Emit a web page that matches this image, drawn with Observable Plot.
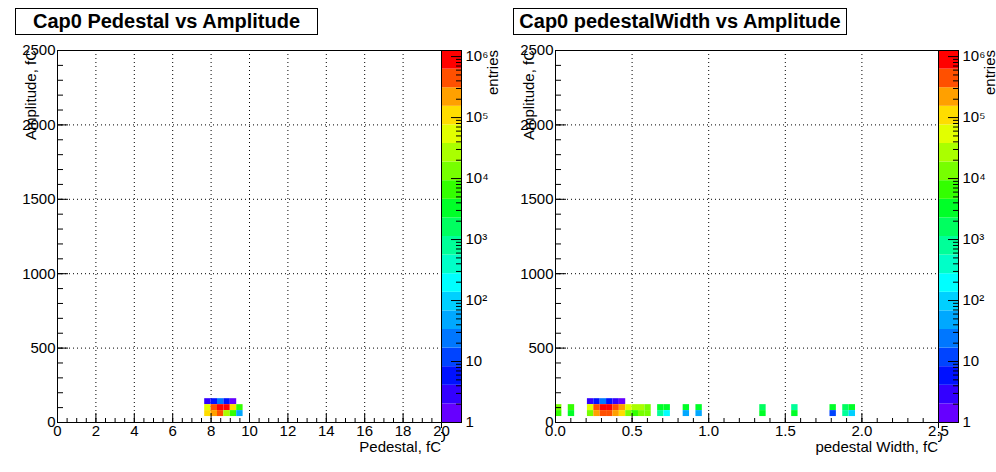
<!DOCTYPE html>
<html>
<head>
<meta charset="utf-8">
<script src="https://cdn.jsdelivr.net/npm/d3@7"></script>
<script src="https://cdn.jsdelivr.net/npm/@observablehq/plot@0.6"></script>
<style>
  body { margin: 0; background: #fff; font-family: "Liberation Sans", Arial, sans-serif; }
  #page { position: relative; width: 996px; height: 472px; overflow: hidden; }
  #page svg { position: absolute; top: 0; }
  .title { position: absolute; top: 8px; height: 25px; border: 1px solid #000; font-weight: bold;
           font-size: 20px; line-height: 25px; text-align: center; background: #fff; }
  .lbl { position: absolute; font-size: 15px; white-space: nowrap; }
  .rot { transform-origin: right top; transform: rotate(-90deg); }
</style>
</head>
<body>
<div id="page"></div>
<script>
// ROOT rainbow palette, 20 levels, bottom to top
const palette = ["#6600ff","#3300ff","#0011ff","#0044ff","#0077ff","#00a8ff","#00d0ff","#00ffff",
  "#00ffc8","#00ff99","#00ff60","#00ff28","#33ff00","#77ff00","#aaff00","#e2ff00",
  "#ffdd00","#ffa000","#ff5000","#ff0000"];
const zMax = 6.1; // log10 top of the colour bar

// left: Pedestal (bin 1/3 fC) vs Amplitude (bin 40 fC)
const pedBin = [23,24,25,26,27, 23,24,25,26,27,28, 23,24,25,26,27,28];
const pedRow = [120,120,120,120,120, 80,80,80,80,80,80, 40,40,40,40,40,40];
const pedN   = [3,6,20,7,2, 50000,420000,900000,850000,120000,6000, 110000,300000,450000,28000,6000,45];

// right: pedestal width (bin 2.5/60 fC) vs Amplitude
const widBin = [5,6,7,8,9,10,
  0,2,5,6,7,8,9,10,11,12,13,14,16,17,20,22,32,37,43,45,46,
  0,2,5,6,7,8,9,10,11,12,13,14,16,17,20,22,32,37,43,45,46];
const widRow = [120,120,120,120,120,120,
  80,80,80,80,80,80,80,80,80,80,80,80,80,80,80,80,80,80,80,80,80,
  40,40,40,40,40,40,40,40,40,40,40,40,40,40,40,40,40,40,40,40,40];
const widN = [3,6,20,6,3,1.5,
  12000,6000,60000,500000,900000,900000,500000,250000,50000,25000,25000,12000,3000,3000,3000,3000,1500,700,3000,1500,3000,
  6000,3000,12000,300000,450000,400000,220000,110000,12000,6000,12000,12000,700,180,45,45,3000,3000,12,600,90];

const thresholds = d3.range(1, 20).map(k => Math.pow(10, zMax * k / 20));
const font = "'Liberation Sans', Arial, sans-serif";
const page = document.getElementById("page");

function addText(txt, css, cls) {
  const d = document.createElement("div");
  d.className = "lbl" + (cls ? " " + cls : "");
  d.textContent = txt;
  Object.assign(d.style, css);
  page.appendChild(d);
}

function panel({left, frameL, frameR, xDomain, xMajor, xMinor, bins, rows, counts, binW, title, titleL, titleW, xLabel}) {
  const W = frameR - left + 20, H = 472, fw = frameR - frameL, fh = 372;
  const cells = bins.map((b, i) => ({x1: b * binW, x2: (b + 1) * binW, y1: rows[i], y2: rows[i] + 40, n: counts[i]}));
  const yMajor = d3.range(0, 2501, 500), yMinor = d3.range(0, 2501, 100);
  const main = Plot.plot({
    width: W, height: H,
    marginLeft: frameL - left, marginRight: 20, marginTop: 50, marginBottom: 50,
    x: {domain: xDomain}, y: {domain: [0, 2500]},
    color: {type: "threshold", domain: thresholds, range: palette},
    style: {fontFamily: font, fontSize: "15px", background: "transparent", color: "#000"},
    marks: [
      Plot.ruleX(xMajor, {stroke: "#000", strokeDasharray: "1,3"}),
      Plot.ruleY(yMajor, {stroke: "#000", strokeDasharray: "1,3"}),
      Plot.rect(cells, {x1: "x1", x2: "x2", y1: "y1", y2: "y2", fill: "n"}),
      Plot.tickX(xMinor, {x: d => d, insetTop: fh - 4, stroke: "#000"}),
      Plot.tickX(xMajor, {x: d => d, insetTop: fh - 9, stroke: "#000"}),
      Plot.tickY(yMinor, {y: d => d, insetRight: fw - 6, stroke: "#000"}),
      Plot.tickY(yMajor, {y: d => d, insetRight: fw - 11, stroke: "#000"}),
      Plot.axisX(xMajor, {tickSize: 0, tickPadding: 3, label: null, fontSize: 15}),
      Plot.axisY(yMajor, {tickSize: 0, tickPadding: 2, label: null, fontSize: 15, tickFormat: d => String(d)}),
      Plot.frame({stroke: "#000"})
    ]
  });
  main.style.left = left + "px";
  page.appendChild(main);

  // colour bar
  const edges = [1, ...thresholds, Math.pow(10, zMax)];
  const levels = palette.map((c, i) => ({y1: edges[i], y2: edges[i + 1], c}));
  const cbMajor = [1, 10, 100, 1e3, 1e4, 1e5, 1e6];
  const cbMinor = d3.range(0, 7).flatMap(e => d3.range(2, 10).map(m => m * Math.pow(10, e))).filter(v => v < Math.pow(10, zMax));
  const sup = {1: "1", 10: "10", 100: "10²", 1000: "10³", 10000: "10⁴", 100000: "10⁵", 1000000: "10⁶"};
  const bar = Plot.plot({
    width: 58, height: H, marginLeft: 0, marginRight: 38, marginTop: 50, marginBottom: 50,
    y: {type: "log", domain: [1, Math.pow(10, zMax)]},
    color: {type: "identity"},
    style: {fontFamily: font, fontSize: "15px", background: "transparent", color: "#000"},
    marks: [
      Plot.rect(levels, {x1: 0, x2: 1, y1: "y1", y2: "y2", fill: "c"}),
      Plot.tickY(cbMinor, {y: d => d, insetLeft: 15, stroke: "#000"}),
      Plot.tickY(cbMajor, {y: d => d, insetLeft: 10, stroke: "#000"}),
      Plot.axisY(cbMajor, {anchor: "right", tickSize: 0, tickPadding: 4, label: null, tickFormat: d => sup[d], fontSize: 15}),
      Plot.frame({stroke: "#000"})
    ]
  });
  bar.style.left = frameR + "px";
  page.appendChild(bar);

  const t = document.createElement("div");
  t.className = "title";
  t.textContent = title;
  Object.assign(t.style, {left: titleL + "px", width: titleW + "px"});
  page.appendChild(t);

  addText(xLabel, {right: (996 - frameR) + "px", top: "438px"});
  addText("Amplitude, fC", {right: (996 - (frameL - 35)) + "px", top: "50px"}, "rot");
  addText("entries", {right: (996 - (frameR + 43)) + "px", top: "50px"}, "rot");
}

panel({left: 0, frameL: 57, frameR: 441, xDomain: [0, 20],
  xMajor: d3.range(0, 21, 2), xMinor: d3.range(0, 20.01, 0.5),
  bins: pedBin, rows: pedRow, counts: pedN, binW: 20 / 60,
  title: "Cap0 Pedestal vs Amplitude", titleL: 15, titleW: 301, xLabel: "Pedestal, fC"});

panel({left: 500, frameL: 555, frameR: 938, xDomain: [0, 2.5],
  xMajor: d3.range(0, 2.51, 0.5), xMinor: d3.range(0, 2.51, 0.1),
  bins: widBin, rows: widRow, counts: widN, binW: 2.5 / 60,
  title: "Cap0 pedestalWidth vs Amplitude", titleL: 513, titleW: 332, xLabel: "pedestal Width, fC"});
</script>
</body>
</html>
